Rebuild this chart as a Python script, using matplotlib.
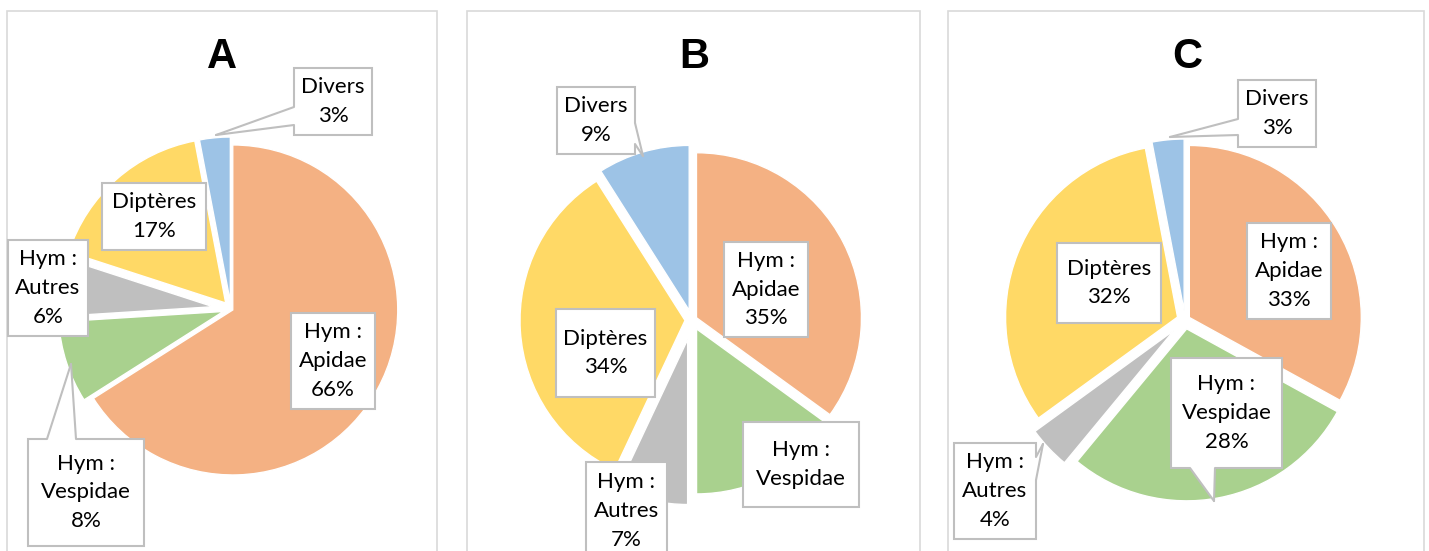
import matplotlib
matplotlib.use("Agg")
import matplotlib.pyplot as plt
from matplotlib.patches import Rectangle, Polygon

# ---------------- data ----------------
categories = ["Hym :\nApidae", "Hym :\nVespidae", "Hym :\nAutres", "Diptères", "Divers"]
panel_titles = ["A", "B", "C"]
values_A = [66, 8, 6, 17, 3]
values_B = [35, 15, 7, 34, 9]
values_C = [33, 28, 4, 32, 3]
show_pct_B = [True, False, True, True, True]
colors = ["#F4B183", "#A9D18E", "#BFBFBF", "#FFD966", "#9DC3E6"]

# ---------------- layout (pixel coordinates, y from top) ----------------
W, H = 1429, 551
layouts = [
    dict(frame=(7, 437), title=(222, 57), center=(231, 309), r=165,
         explode=[2, 8, 18, 8, 7],
         boxes=[(291, 313, 375, 409), (28, 439, 144, 546), (8, 240, 88, 336),
                (102, 183, 206, 250), (294, 68, 372, 135)],
         callouts={1: ((47, 439), (76, 439), (71, 364)),
                   4: ((294, 107), (294, 125), (216, 135))}),
    dict(frame=(467, 920), title=(694, 57), center=(692, 320), r=165,
         explode=[5, 10, 20, 7, 10],
         boxes=[(724, 242, 808, 337), (743, 422, 859, 507), (586, 462, 667, 575),
                (556, 309, 655, 397), (557, 87, 635, 154)],
         callouts={4: ((635, 123), (635, 144), (643, 156))}),
    dict(frame=(948, 1424), title=(1187, 57), center=(1185, 320), r=172,
         explode=[5, 9, 15, 8, 9],
         boxes=[(1247, 223, 1331, 319), (1171, 358, 1282, 468), (954, 443, 1036, 539),
                (1057, 243, 1161, 323), (1238, 80, 1316, 147)],
         callouts={1: ((1190, 468), (1215, 468), (1214, 501)),
                   2: ((1036, 457), (1036, 480), (1043, 444)),
                   4: ((1238, 119), (1238, 135), (1170, 137))}),
]
# text centre for boxes whose text is not centred in the (clipped) box
text_y_override = {(1, 2): 511}


def Y(y):
    return H - y


fig = plt.figure(figsize=(W / 100, H / 100), dpi=100)
ax = fig.add_axes([0, 0, 1, 1])

edge_gray = "#BFBFBF"
label_font = dict(family=["Lato", "DejaVu Sans"], fontsize=16, color="#000000")

all_values = [values_A, values_B, values_C]
all_show = [[True] * 5, show_pct_B, [True] * 5]

for p, (vals, show, lay, title) in enumerate(zip(all_values, all_show, layouts, panel_titles)):
    fx0, fx1 = lay["frame"]
    ax.add_patch(Rectangle((fx0, Y(H + 10)), fx1 - fx0, (H + 10) - 11,
                           facecolor="white", edgecolor="#D9D9D9", lw=1.2, zorder=0))
    ax.text(lay["title"][0], Y(lay["title"][1]), title, ha="center", va="center",
            fontsize=30, fontweight="bold", family=["Liberation Sans", "DejaVu Sans"],
            zorder=6)
    cx, cy = lay["center"]
    ax.pie(vals, colors=colors, startangle=90, counterclock=False,
           center=(cx, Y(cy)), radius=lay["r"], explode=lay["explode"],
           wedgeprops=dict(edgecolor="white", linewidth=1.0), frame=True)

    for i, (cat, v) in enumerate(zip(categories, vals)):
        x0, y0, x1, y1 = lay["boxes"][i]
        ax.add_patch(Rectangle((x0, Y(y1)), x1 - x0, y1 - y0, facecolor="white",
                               edgecolor=edge_gray, lw=1.5, zorder=3))
        txt = cat + (f"\n{v}%" if show[i] else "")
        ty = text_y_override.get((p, i), (y0 + y1) / 2)
        ax.text((x0 + x1) / 2, Y(ty), txt, ha="center", va="center",
                linespacing=1.55, zorder=6, **label_font)
        if i in lay["callouts"]:
            b1, b2, tip = lay["callouts"][i]
            bcx, bcy = (x0 + x1) / 2, (y0 + y1) / 2

            def inset(pt):
                px, py = pt
                if abs(px - x0) < 1 or abs(px - x1) < 1:
                    return (px + (3 if bcx > px else -3), py)
                return (px, py + (3 if bcy > py else -3))
            pts = [b1, tip, b2, inset(b2), inset(b1)]
            ax.add_patch(Polygon([(q[0], Y(q[1])) for q in pts], closed=True,
                                 facecolor="white", edgecolor="none", zorder=4))
            for b in (b1, b2):
                ax.plot([b[0], tip[0]], [Y(b[1]), Y(tip[1])], color=edge_gray,
                        lw=1.5, zorder=5, solid_capstyle="round")

ax.set_xlim(0, W)
ax.set_ylim(0, H)
ax.set_aspect("equal")
ax.axis("off")
fig.savefig("out.png", dpi=100, facecolor="white")
